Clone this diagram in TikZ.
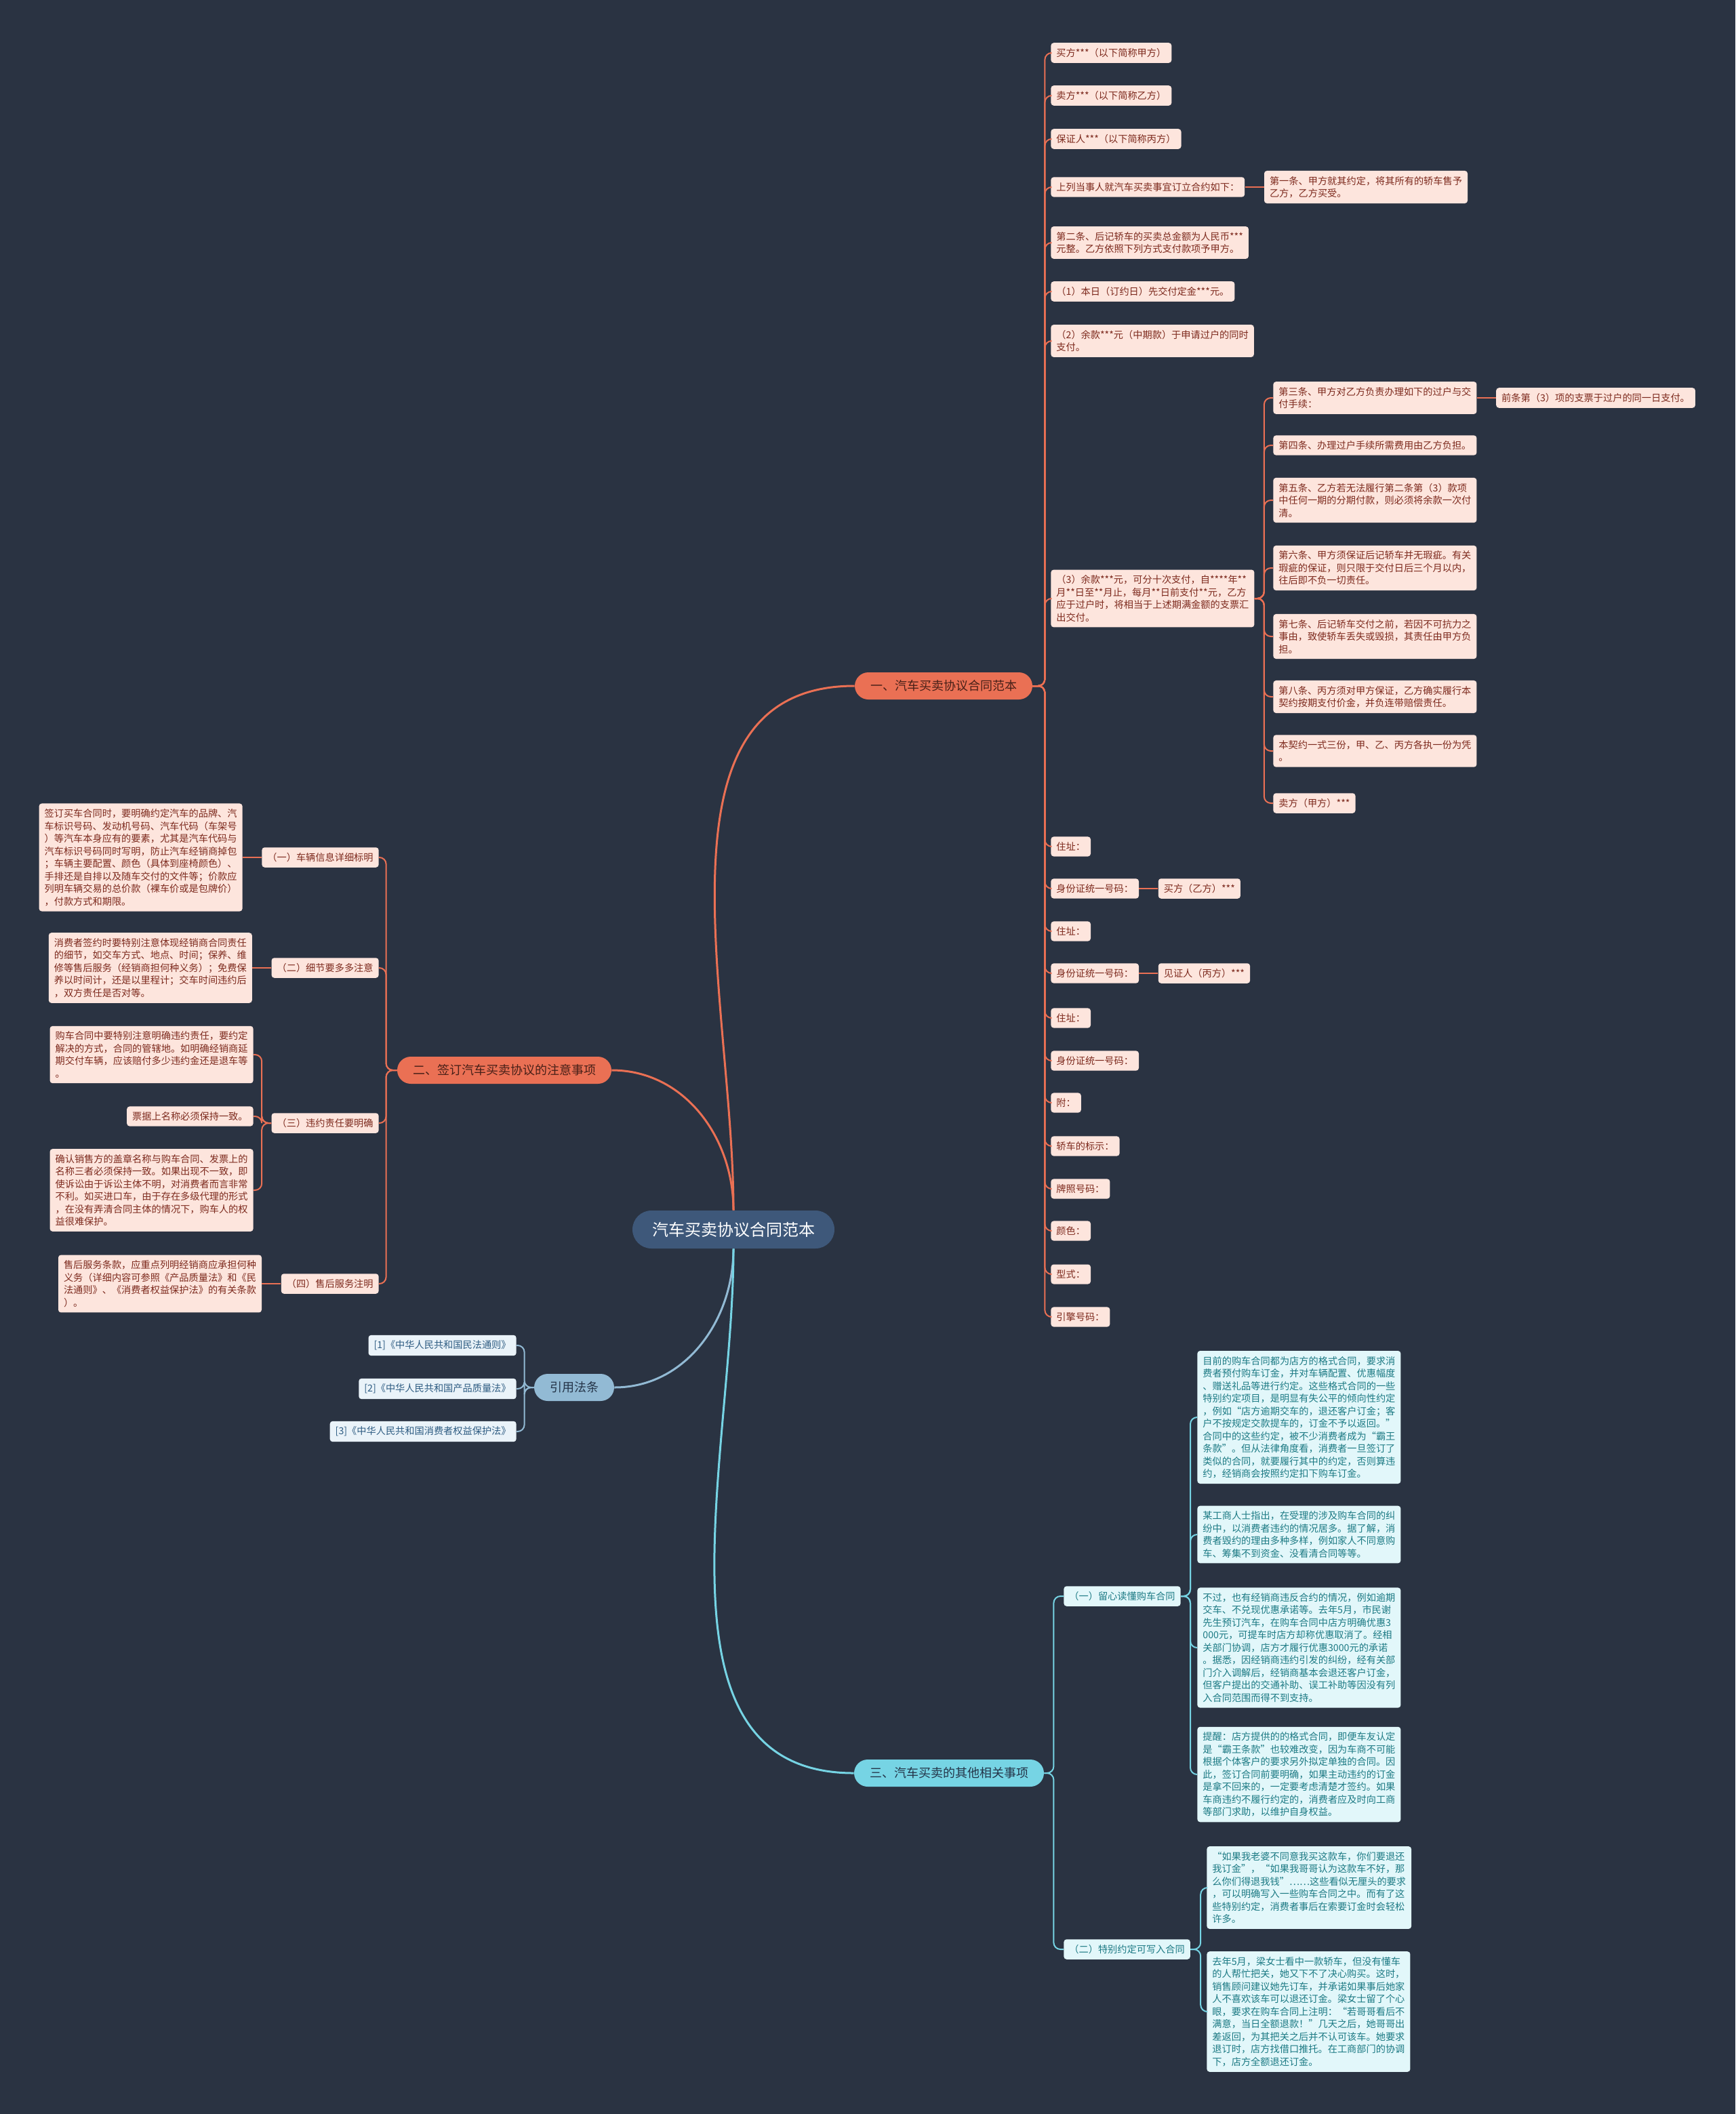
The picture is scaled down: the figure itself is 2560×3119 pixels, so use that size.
\documentclass[tikz,border=0pt]{standalone}
\usepackage{fontspec}
\setmainfont{Noto Sans CJK SC}
\usepackage{tikz}
\usetikzlibrary{positioning}
\usepackage{xcolor}
\definecolor{bgnavy}{RGB}{42,51,66}
\definecolor{rootblue}{RGB}{62,88,122}
\definecolor{coral}{RGB}{234,112,84}
\definecolor{peach}{RGB}{253,229,221}
\definecolor{brownred}{RGB}{125,42,30}
\definecolor{darkbrown}{RGB}{72,32,24}
\definecolor{skyblue}{RGB}{146,186,212}
\definecolor{paleblue}{RGB}{234,243,249}
\definecolor{steel}{RGB}{46,92,130}
\definecolor{aqua}{RGB}{118,212,228}
\definecolor{paleaqua}{RGB}{226,247,250}
\definecolor{tealtext}{RGB}{28,122,132}
\definecolor{navytext}{RGB}{36,52,72}

\begin{document}
\begin{tikzpicture}[x=0.5pt, y=-0.5pt,
  every node/.style={font=\fontsize{7.1}{9.25}\selectfont},
  rootnode/.style={fill=rootblue, text=white, rounded corners=14pt, minimum height=28pt, inner xsep=14.5pt, font=\fontsize{12}{14}\selectfont},
  pill/.style={rounded corners=10pt, minimum height=20pt, inner xsep=11.5pt, font=\fontsize{9}{11}\selectfont},
  redpill/.style={pill, fill=coral, text=darkbrown},
  bluepill/.style={pill, fill=skyblue, text=navytext},
  aquapill/.style={pill, fill=aqua, text=navytext},
  leafbox/.style={rounded corners=2pt, inner xsep=4pt, inner ysep=4pt, align=left},
  redbox/.style={leafbox, fill=peach, text=brownred},
  bluebox/.style={leafbox, fill=paleblue, text=steel},
  aquabox/.style={leafbox, fill=paleaqua, text=tealtext},
  redlink/.style={draw=coral, line width=1pt, rounded corners=5pt},
  bluelink/.style={draw=skyblue, line width=1pt, rounded corners=5pt},
  aqualink/.style={draw=aqua, line width=1pt, rounded corners=5pt}]

  % background
  \useasboundingbox (0,0) rectangle (2560,3119);
  \fill[bgnavy] (0,0) rectangle (2560,3119);

  % root and main branches
  \node[rootnode] (root) at (1082,1814) {汽车买卖协议合同范本};
  \node[redpill] (b1) at (1392,1012) {一、汽车买卖协议合同范本};
  \node[redpill] (b2) at (744,1579) {二、签订汽车买卖协议的注意事项};
  \node[bluepill] (b3) at (847,2047) {引用法条};
  \node[aquapill] (b4) at (1400,2616) {三、汽车买卖的其他相关事项};

  \draw[redlink, line width=1.5pt] (root.north) to[out=90, in=180] (b1.west);
  \draw[redlink, line width=1.5pt] (root.north) to[out=90, in=0] (b2.east);
  \draw[bluelink, line width=1.5pt] (root.south) to[out=-90, in=0] (b3.east);
  \draw[aqualink, line width=1.5pt] (root.south) to[out=-90, in=180] (b4.west);

  % branch one: the contract text
  \node[redbox, anchor=west] (a1) at (1550,78) {买方***（以下简称甲方）};
  \node[redbox, anchor=west] (a2) at (1550,141) {卖方***（以下简称乙方）};
  \node[redbox, anchor=west] (a3) at (1550,205) {保证人***（以下简称丙方）};
  \node[redbox, anchor=west] (a4) at (1550,276) {上列当事人就汽车买卖事宜订立合约如下：};
  \node[redbox, right=14pt of a4] (a4x) {第一条、甲方就其约定，将其所有的轿车售予\\乙方，乙方买受。};
  \node[redbox, anchor=west] (a5) at (1550,358) {第二条、后记轿车的买卖总金额为人民币***\\元整。乙方依照下列方式支付款项予甲方。};
  \node[redbox, anchor=west] (a6) at (1550,430) {（1）本日（订约日）先交付定金***元。};
  \node[redbox, anchor=west] (a7) at (1550,503) {（2）余款***元（中期款）于申请过户的同时\\支付。};
  \node[redbox, anchor=west] (a8) at (1550,883) {（3）余款***元，可分十次支付，自****年**\\月**日至**月止，每月**日前支付**元，乙方\\应于过户时，将相当于上述期满金额的支票汇\\出交付。};
  \node[redbox, anchor=west] (a9) at (1550,1249) {住址：};
  \node[redbox, anchor=west] (a10) at (1550,1311) {身份证统一号码：};
  \node[redbox, right=14pt of a10] (a10x) {买方（乙方）***};
  \node[redbox, anchor=west] (a11) at (1550,1374) {住址：};
  \node[redbox, anchor=west] (a12) at (1550,1436) {身份证统一号码：};
  \node[redbox, right=14pt of a12] (a12x) {见证人（丙方）***};
  \node[redbox, anchor=west] (a13) at (1550,1502) {住址：};
  \node[redbox, anchor=west] (a14) at (1550,1565) {身份证统一号码：};
  \node[redbox, anchor=west] (a15) at (1550,1627) {附：};
  \node[redbox, anchor=west] (a16) at (1550,1691) {轿车的标示：};
  \node[redbox, anchor=west] (a17) at (1550,1754) {牌照号码：};
  \node[redbox, anchor=west] (a18) at (1550,1816) {颜色：};
  \node[redbox, anchor=west] (a19) at (1550,1880) {型式：};
  \node[redbox, anchor=west] (a20) at (1550,1943) {引擎号码：};

  \node[redbox, anchor=west] (c1) at (1878,587) {第三条、甲方对乙方负责办理如下的过户与交\\付手续：};
  \node[redbox, right=14pt of c1] (c1x) {前条第（3）项的支票于过户的同一日支付。};
  \node[redbox, anchor=west] (c2) at (1878,657) {第四条、办理过户手续所需费用由乙方负担。};
  \node[redbox, anchor=west] (c3) at (1878,738) {第五条、乙方若无法履行第二条第（3）款项\\中任何一期的分期付款，则必须将余款一次付\\清。};
  \node[redbox, anchor=west] (c4) at (1878,838) {第六条、甲方须保证后记轿车并无瑕疵。有关\\瑕疵的保证，则只限于交付日后三个月以内，\\往后即不负一切责任。};
  \node[redbox, anchor=west] (c5) at (1878,939) {第七条、后记轿车交付之前，若因不可抗力之\\事由，致使轿车丢失或毁损，其责任由甲方负\\担。};
  \node[redbox, anchor=west] (c6) at (1878,1028) {第八条、丙方须对甲方保证，乙方确实履行本\\契约按期支付价金，并负连带赔偿责任。};
  \node[redbox, anchor=west] (c7) at (1878,1108) {本契约一式三份，甲、乙、丙方各执一份为凭\\。};
  \node[redbox, anchor=west] (c8) at (1878,1185) {卖方（甲方）***};

  \foreach \i in {1,...,20}
    \draw[redlink] (b1.east) -- ++(18,0) |- (a\i.west);
  \foreach \i in {1,...,8}
    \draw[redlink] (a8.east) -- ++(14,0) |- (c\i.west);
  \draw[redlink] (a4.east) -- (a4x.west);
  \draw[redlink] (c1.east) -- (c1x.west);
  \draw[redlink] (a10.east) -- (a10x.west);
  \draw[redlink] (a12.east) -- (a12x.west);

  % branch two: points to watch
  \node[redbox, anchor=east] (d1) at (559,1265) {（一）车辆信息详细标明};
  \node[redbox, left=14pt of d1] (d1x) {签订买车合同时，要明确约定汽车的品牌、汽\\车标识号码、发动机号码、汽车代码（车架号\\）等汽车本身应有的要素，尤其是汽车代码与\\汽车标识号码同时写明，防止汽车经销商掉包\\；车辆主要配置、颜色（具体到座椅颜色）、\\手排还是自排以及随车交付的文件等；价款应\\列明车辆交易的总价款（裸车价或是包牌价）\\，付款方式和期限。};
  \node[redbox, anchor=east] (d2) at (559,1428) {（二）细节要多多注意};
  \node[redbox, left=14pt of d2] (d2x) {消费者签约时要特别注意体现经销商合同责任\\的细节，如交车方式、地点、时间；保养、维\\修等售后服务（经销商担何种义务）；免费保\\养以时间计，还是以里程计；交车时间违约后\\，双方责任是否对等。};
  \node[redbox, anchor=east] (d3) at (559,1657) {（三）违约责任要明确};
  \node[redbox, anchor=east] (e1x) at (374,1556) {购车合同中要特别注意明确违约责任，要约定\\解决的方式，合同的管辖地。如明确经销商延\\期交付车辆，应该赔付多少违约金还是退车等\\。};
  \node[redbox, anchor=east] (e2x) at (374,1647) {票据上名称必须保持一致。};
  \node[redbox, anchor=east] (e3x) at (374,1756) {确认销售方的盖章名称与购车合同、发票上的\\名称三者必须保持一致。如果出现不一致，即\\使诉讼由于诉讼主体不明，对消费者而言非常\\不利。如买进口车，由于存在多级代理的形式\\，在没有弄清合同主体的情况下，购车人的权\\益很难保护。};
  \node[redbox, anchor=east] (d4) at (559,1894) {（四）售后服务注明};
  \node[redbox, left=14pt of d4] (d4x) {售后服务条款，应重点列明经销商应承担何种\\义务（详细内容可参照《产品质量法》和《民\\法通则》、《消费者权益保护法》的有关条款\\）。};

  \foreach \i in {1,...,4}
    \draw[redlink] (b2.west) -- ++(-16,0) |- (d\i.east);
  \foreach \i in {1,...,3}
    \draw[redlink] (d3.west) -- ++(-14,0) |- (e\i x.east);
  \draw[redlink] (d1.west) -- (d1x.east);
  \draw[redlink] (d2.west) -- (d2x.east);
  \draw[redlink] (d4.west) -- (d4x.east);

  % branch three: cited laws
  \node[bluebox, anchor=east] (law1) at (762,1985) {[1]《中华人民共和国民法通则》};
  \node[bluebox, anchor=east] (law2) at (762,2049) {[2]《中华人民共和国产品质量法》};
  \node[bluebox, anchor=east] (law3) at (762,2112) {[3]《中华人民共和国消费者权益保护法》};
  \foreach \i in {1,...,3}
    \draw[bluelink] (b3.west) -- ++(-14,0) |- (law\i.east);

  % branch four: other matters
  \node[aquabox, anchor=west] (f1) at (1569,2355) {（一）留心读懂购车合同};
  \node[aquabox, anchor=west] (f2) at (1569,2876) {（二）特别约定可写入合同};
  \node[aquabox, anchor=west] (g1) at (1766,2091) {目前的购车合同都为店方的格式合同，要求消\\费者预付购车订金，并对车辆配置、优惠幅度\\、赠送礼品等进行约定。这些格式合同的一些\\特别约定项目，是明显有失公平的倾向性约定\\，例如“店方逾期交车的，退还客户订金；客\\户不按规定交款提车的，订金不予以返回。”\\合同中的这些约定，被不少消费者成为“霸王\\条款”。但从法律角度看，消费者一旦签订了\\类似的合同，就要履行其中的约定，否则算违\\约，经销商会按照约定扣下购车订金。};
  \node[aquabox, anchor=west] (g2) at (1766,2264) {某工商人士指出，在受理的涉及购车合同的纠\\纷中，以消费者违约的情况居多。据了解，消\\费者毁约的理由多种多样，例如家人不同意购\\车、筹集不到资金、没看清合同等等。};
  \node[aquabox, anchor=west] (g3) at (1766,2431) {不过，也有经销商违反合约的情况，例如逾期\\交车、不兑现优惠承诺等。去年5月，市民谢\\先生预订汽车，在购车合同中店方明确优惠3\\000元，可提车时店方却称优惠取消了。经相\\关部门协调，店方才履行优惠3000元的承诺\\。据悉，因经销商违约引发的纠纷，经有关部\\门介入调解后，经销商基本会退还客户订金，\\但客户提出的交通补助、误工补助等因没有列\\入合同范围而得不到支持。};
  \node[aquabox, anchor=west] (g4) at (1766,2618) {提醒：店方提供的的格式合同，即便车友认定\\是“霸王条款”也较难改变，因为车商不可能\\根据个体客户的要求另外拟定单独的合同。因\\此，签订合同前要明确，如果主动违约的订金\\是拿不回来的，一定要考虑清楚才签约。如果\\车商违约不履行约定的，消费者应及时向工商\\等部门求助，以维护自身权益。};
  \node[aquabox, anchor=west] (h1) at (1780,2785) {“如果我老婆不同意我买这款车，你们要退还\\我订金”，“如果我哥哥认为这款车不好，那\\么你们得退我钱”……这些看似无厘头的要求\\，可以明确写入一些购车合同之中。而有了这\\些特别约定，消费者事后在索要订金时会轻松\\许多。};
  \node[aquabox, anchor=west] (h2) at (1780,2968) {去年5月，梁女士看中一款轿车，但没有懂车\\的人帮忙把关，她又下不了决心购买。这时，\\销售顾问建议她先订车，并承诺如果事后她家\\人不喜欢该车可以退还订金。梁女士留了个心\\眼，要求在购车合同上注明：“若哥哥看后不\\满意，当日全额退款！”几天之后，她哥哥出\\差返回，为其把关之后并不认可该车。她要求\\退订时，店方找借口推托。在工商部门的协调\\下，店方全额退还订金。};

  \foreach \i in {1,2}
    \draw[aqualink] (b4.east) -- ++(14,0) |- (f\i.west);
  \foreach \i in {1,...,4}
    \draw[aqualink] (f1.east) -- ++(14,0) |- (g\i.west);
  \foreach \i in {1,2}
    \draw[aqualink] (f2.east) -- ++(15,0) |- (h\i.west);
\end{tikzpicture}
\end{document}
